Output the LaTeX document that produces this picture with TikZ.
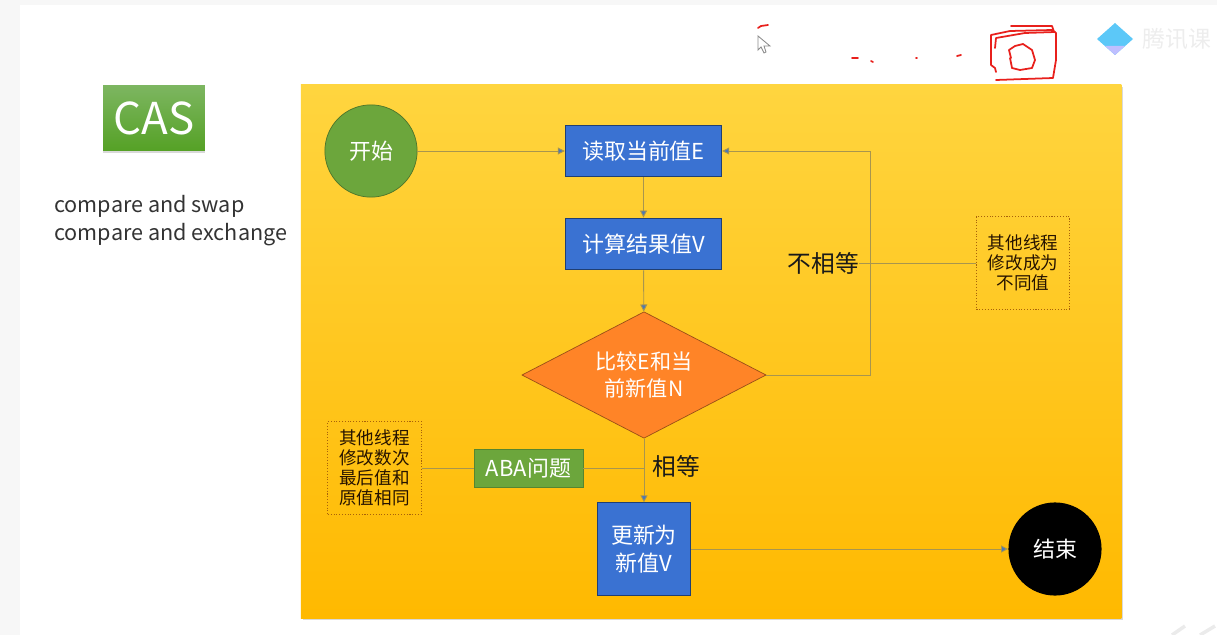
\documentclass[tikz,border=0pt]{standalone}
\usepackage{fontspec}
\setmainfont{Noto Sans CJK SC}
\usetikzlibrary{arrows.meta,calc,shapes.geometric,shadows}
\definecolor{boxblue}{HTML}{3A72D2}
\definecolor{boxgreen}{HTML}{6CA63C}
\definecolor{lineolive}{HTML}{A8954E}
\definecolor{headblue}{HTML}{4A78B8}
\definecolor{noteline}{HTML}{A8620A}
\definecolor{penred}{HTML}{E8201C}
\definecolor{panelt}{HTML}{FFD53F}
\definecolor{panelm}{HTML}{FFCB05}
\definecolor{panelb}{HTML}{FFB900}
\definecolor{cast}{HTML}{7DB661}
\definecolor{casb}{HTML}{55A125}
\definecolor{cmpfill}{HTML}{FF8427}
\definecolor{logoblue}{HTML}{5CC8F8}
\tikzset{
  flowbox/.style={draw=black!45!boxblue,line width=0.6pt,fill=boxblue,text=white,align=center,inner sep=0pt,font=\fontsize{12.5}{15.5}\selectfont},
  notebox/.style={draw=noteline,densely dotted,line width=0.6pt,align=center,inner sep=0pt,text=black!85!orange,minimum width=53pt,font=\fontsize{10}{11.3}\selectfont},
  flowline/.style={draw=lineolive,line width=0.5pt},
  flowarrow/.style={flowline,-{Triangle[length=4pt,width=4pt,fill=headblue]}},
  penline/.style={draw=penred,line width=1pt,line cap=round,line join=round},
}
\begin{document}
\begin{tikzpicture}[x=0.02cm,y=-0.02cm]
  \useasboundingbox (0,0) rectangle (1217,635);
  % screen edges
  \fill[black!3] (0,0) rectangle (1217,5);
  \fill[black!3] (0,0) rectangle (20,635);
  % title block on the left
  \node[minimum width=58pt,minimum height=37.5pt,inner sep=0pt,text=white,top color=cast,bottom color=casb,drop shadow={shadow xshift=0pt,shadow yshift=-1pt,opacity=0.3},font=\fontsize{25}{30}\selectfont] (cas) at (154,118) {\raisebox{-1pt}{CAS}};
  \node[anchor=north west,align=left,inner sep=0pt,text=black!80,font=\fontsize{12.3}{16}\selectfont] (names) at (54,195) {compare and swap\\compare and exchange};
  % yellow panel
  \node[minimum width=467pt,minimum height=303.5pt,inner sep=0pt,top color=panelt,middle color=panelm,bottom color=panelb,drop shadow={shadow xshift=1pt,shadow yshift=-1pt,opacity=0.3}] (panel) at (711,351.5) {};
  % flow nodes
  \node[circle,draw=black!30!boxgreen,fill=boxgreen,text=white,minimum size=52.5pt,inner sep=0pt,font=\fontsize{12.5}{15}\selectfont] (start) at (371,151) {开始};
  \node[flowbox,minimum width=89pt,minimum height=29.5pt] (read) at (643.5,151) {读取当前值E};
  \node[flowbox,minimum width=89pt,minimum height=29.5pt] (calc) at (643.5,244) {计算结果值V};
  \node[diamond,aspect=2,draw=black!40!cmpfill,fill=cmpfill,text=white,minimum width=139pt,minimum height=72pt,inner sep=0pt,align=center,font=\fontsize{12}{15}\selectfont] (cmp) at (644,375) {比较E和当\\前新值N};
  \node[flowbox,minimum width=53pt,minimum height=52.5pt] (update) at (644,549) {更新为\\新值V};
  \node[circle,fill=black,text=white,minimum size=53pt,inner sep=0pt,font=\fontsize{12.5}{15}\selectfont] (end) at (1055,549) {结束};
  \node[draw=black!20!boxgreen,fill=boxgreen,text=white,minimum width=62pt,minimum height=21.5pt,inner sep=0pt,font=\fontsize{12.5}{15}\selectfont] (aba) at (528.5,468) {ABA问题};
  \node[notebox,minimum height=53pt] (noteleft) at (374.5,468) {其他线程\\修改数次\\最后值和\\原值相同};
  \node[notebox,minimum height=52.5pt] (noteright) at (1023,263) {其他线程\\修改成为\\不同值};
  \node[inner sep=0pt,text=black!90,font=\fontsize{13.5}{16}\selectfont] (ne) at (823.5,263) {不相等};
  \node[inner sep=0pt,text=black!90,font=\fontsize{13.5}{16}\selectfont] (eq) at (676,466) {相等};
  \coordinate (turn) at (870,151);
  \coordinate (join) at (644,468);
  % connectors
  \draw[flowarrow] (start) -- (read);
  \draw[flowarrow] (read) -- (calc);
  \draw[flowarrow] (calc) -- (cmp);
  \draw[flowarrow] (cmp) -- (update);
  \draw[flowarrow] (cmp.east) -| (turn) -- (read.east);
  \draw[flowarrow] (update) -- (end);
  \draw[flowline] (ne) -- (noteright);
  \draw[flowline] (join) -- (aba);
  \draw[flowline] (aba) -- (noteleft);
  % pen marks and cursor
  \draw[penline] (758,28)--(761,26)--(768,25);
  \draw[penline] (852,58)--(858,58);
  \draw[penline] (871,61)--(873,62);
  \draw[penline] (916,58)--(917,58);
  \draw[penline] (957,56)--(961,55);
  \draw[penline] (996,72)--(995,68)--(991,65)--(991,35)--(1010,31)--(1052,30)--(1056,33)--(1056,60)--(1053,78)--(996,80);
  \draw[penline] (1011,26)--(1052,26)--(1054,32);
  \draw[penline] (995,48)--(996,38)--(1025,33)--(1055,32);
  \draw[penline] (1011,58)--(1009,50)--(1015,46)--(1023,44)--(1032,50)--(1035,60)--(1032,68)--(1020,70)--(1012,68)--(1010,58);
  \draw[black!45,fill=white,line width=0.5pt] (758,36)--(758,50)--(761,47)--(764,53)--(766,52)--(764,46)--(770,46)--cycle;
  % logo in the corner
  \fill[logoblue] (1115,23)--(1133,39)--(1115,55)--(1097,39)--cycle;
  \fill[blue!25!white] (1105,46)--(1125,46)--(1115,55)--cycle;
  \node[anchor=west,inner sep=0pt,text=black!7,font=\fontsize{13}{15}\selectfont] (logo) at (1142,39) {腾讯课};
  \draw[black!8,line width=2pt] (1172,635)--(1185,626) (1215,626)--(1200,635);
\end{tikzpicture}
\end{document}
